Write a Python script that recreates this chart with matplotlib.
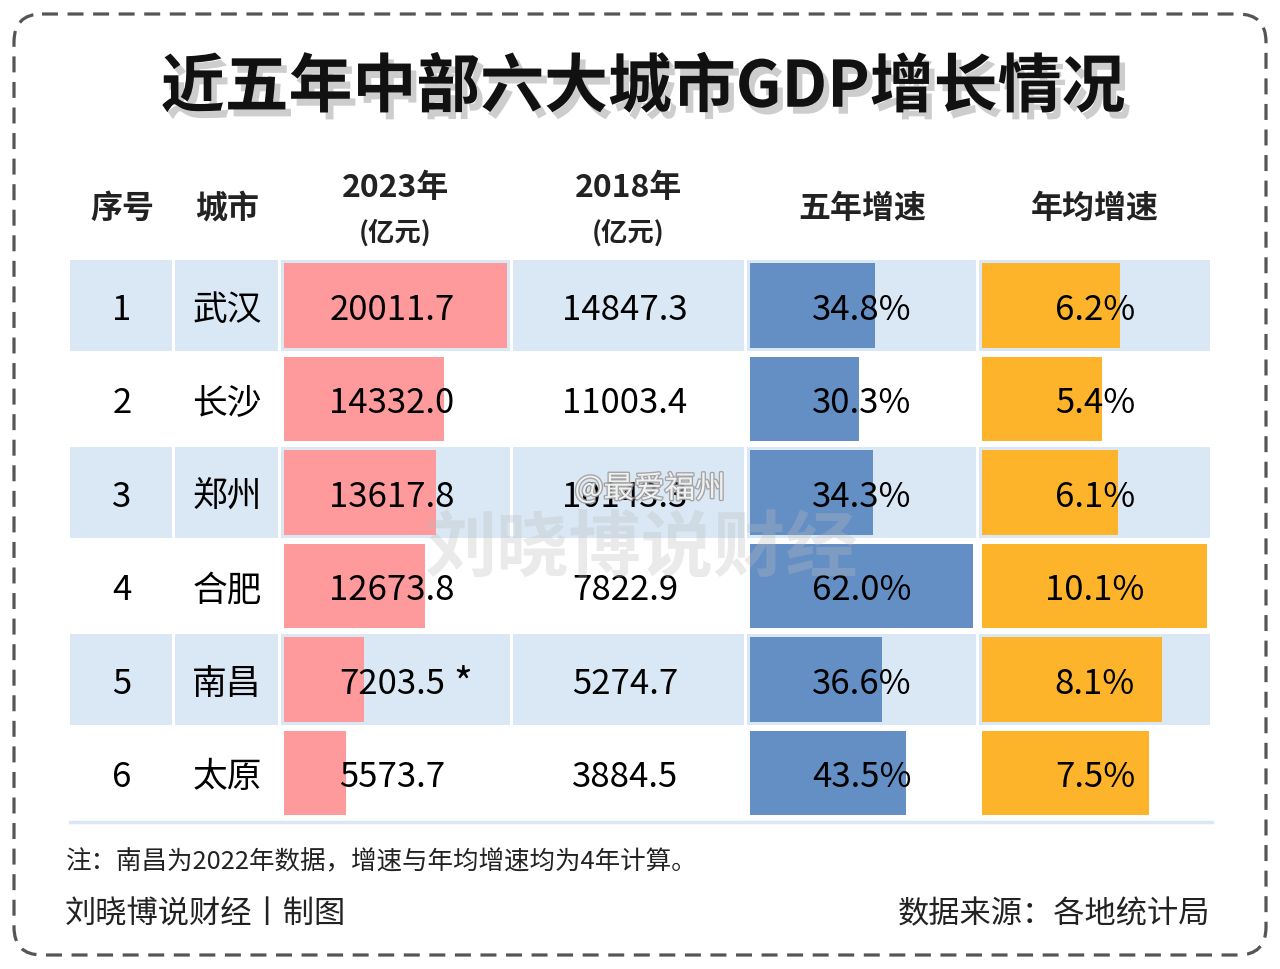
import matplotlib
matplotlib.use("Agg")
import matplotlib.pyplot as plt
import matplotlib.patheffects as pe
from matplotlib.patches import FancyBboxPatch

plt.rcParams['font.family'] = ['Noto Sans CJK SC', 'DejaVu Sans']

# 数据
ranks = ["1", "2", "3", "4", "5", "6"]
cities = ["武汉", "长沙", "郑州", "合肥", "南昌", "太原"]
gdp_2023 = [20011.7, 14332.0, 13617.8, 12673.8, 7203.5, 5573.7]
gdp_2018 = [14847.3, 11003.4, 10143.3, 7822.9, 5274.7, 3884.5]
growth_5y = [34.8, 30.3, 34.3, 62.0, 36.6, 43.5]
growth_avg = [6.2, 5.4, 6.1, 10.1, 8.1, 7.5]
headers = ["序号", "城市", "2023年", "2018年", "五年增速", "年均增速"]

LIGHT = "#dae8f5"
RED = "#fe9a9c"
BLUE = "#648fc5"
ORANGE = "#fdb42a"

# 列的左右边界（像素）
cols = [(70, 172), (175, 278), (281, 510), (513, 744), (747, 976), (979, 1210)]
text_x = [122, 227, 392, 625, 862, 1095]
row_top = 260
row_h = 93.5

fig = plt.figure(figsize=(12.8, 9.69), dpi=100)
ax = fig.add_axes([0, 0, 1, 1])
ax.set_xlim(0, 1280)
ax.set_ylim(969, 0)
ax.axis("off")

# 外框
frame = FancyBboxPatch((14, 14), 1252, 941, boxstyle="round,pad=0,rounding_size=28",
                       fill=False, edgecolor="#555555", linewidth=2.3,
                       linestyle=(0, (5, 3)))
ax.add_patch(frame)

# 标题
ax.text(643, 88, "近五年中部六大城市GDP增长情况", ha="center", va="center",
        fontsize=46, fontweight="heavy", color="#111111",
        path_effects=[pe.withSimplePatchShadow(offset=(4, -5), shadow_rgbFace="#c8c8c8", alpha=0.9)])

# 表头
hkw = dict(ha="center", va="center", fontsize=23, fontweight="bold", color="#222222")
ax.text(text_x[0], 209, headers[0], **hkw)
ax.text(text_x[1], 209, headers[1], **hkw)
for i in (2, 3):
    xc = (cols[i][0] + cols[i][1]) / 2
    ax.text(xc, 188, headers[i], **hkw)
    ax.text(xc, 233, "(亿元)", ha="center", va="center", fontsize=19, fontweight="bold", color="#222222")
ax.text(text_x[4], 209, headers[4], **hkw)
ax.text(text_x[5], 209, headers[5], **hkw)

n = len(cities)
centers = [row_top + row_h * k + row_h / 2 - 1.5 for k in range(n)]

# 背景（奇数行浅蓝）
for k in range(n):
    if k % 2 == 0:
        for (x0, x1) in cols:
            ax.barh(centers[k], x1 - x0, left=x0, height=row_h - 3, color=LIGHT, zorder=1)

# 条形
bar_h = row_h - 9
w3 = cols[2][1] - cols[2][0] - 6
w5 = cols[4][1] - cols[4][0] - 6
w6 = cols[5][1] - cols[5][0] - 6
ax.barh(centers, [v / max(gdp_2023) * w3 for v in gdp_2023], left=cols[2][0] + 3,
        height=bar_h, color=RED, zorder=2)
ax.barh(centers, [v / max(growth_5y) * w5 for v in growth_5y], left=cols[4][0] + 3,
        height=bar_h, color=BLUE, zorder=2)
ax.barh(centers, [v / max(growth_avg) * w6 for v in growth_avg], left=cols[5][0] + 3,
        height=bar_h, color=ORANGE, zorder=2)

# 底线
ax.plot([70, 1212], [822, 822], color=LIGHT, linewidth=2.5, zorder=1)

# 单元格文字
fs = 25
for k in range(n):
    y = centers[k] + 5
    ax.text(text_x[0], y, ranks[k], ha="center", va="center", fontsize=fs, zorder=4)
    ax.text(text_x[1], y, cities[k], ha="center", va="center", fontsize=fs, zorder=4)
    ax.text(text_x[2], y, f"{gdp_2023[k]:.1f}", ha="center", va="center", fontsize=fs, zorder=4)
    ax.text(text_x[3], y, f"{gdp_2018[k]:.1f}", ha="center", va="center", fontsize=fs, zorder=4)
    ax.text(text_x[4], y, f"{growth_5y[k]:.1f}%", ha="center", va="center", fontsize=fs, zorder=4)
    ax.text(text_x[5], y, f"{growth_avg[k]:.1f}%", ha="center", va="center", fontsize=fs, zorder=4)
# 南昌星号
ax.text(453, centers[4] + 6, "*", ha="left", va="center", fontsize=29, zorder=4)

# 水印
ax.text(642, 550, "刘晓博说财经", ha="center", va="center", fontsize=52, fontweight="bold",
        color="#bbbbbb", alpha=0.3, zorder=5)
ax.text(650, 489, "@最爱福州", ha="center", va="center", fontsize=22,
        color="#ffffff", alpha=0.85, zorder=5,
        path_effects=[pe.withStroke(linewidth=2, foreground="#9a9a9a")])

# 脚注
ax.text(66, 862, "注：南昌为2022年数据，增速与年均增速均为4年计算。", ha="left", va="center",
        fontsize=18.4, color="#222222")
ax.text(65, 914, "刘晓博说财经丨制图", ha="left", va="center", fontsize=22.5, color="#222222")
ax.text(1210, 914, "数据来源：各地统计局", ha="right", va="center", fontsize=22.5, color="#222222")

fig.savefig("out.png", dpi=100, facecolor="white")
